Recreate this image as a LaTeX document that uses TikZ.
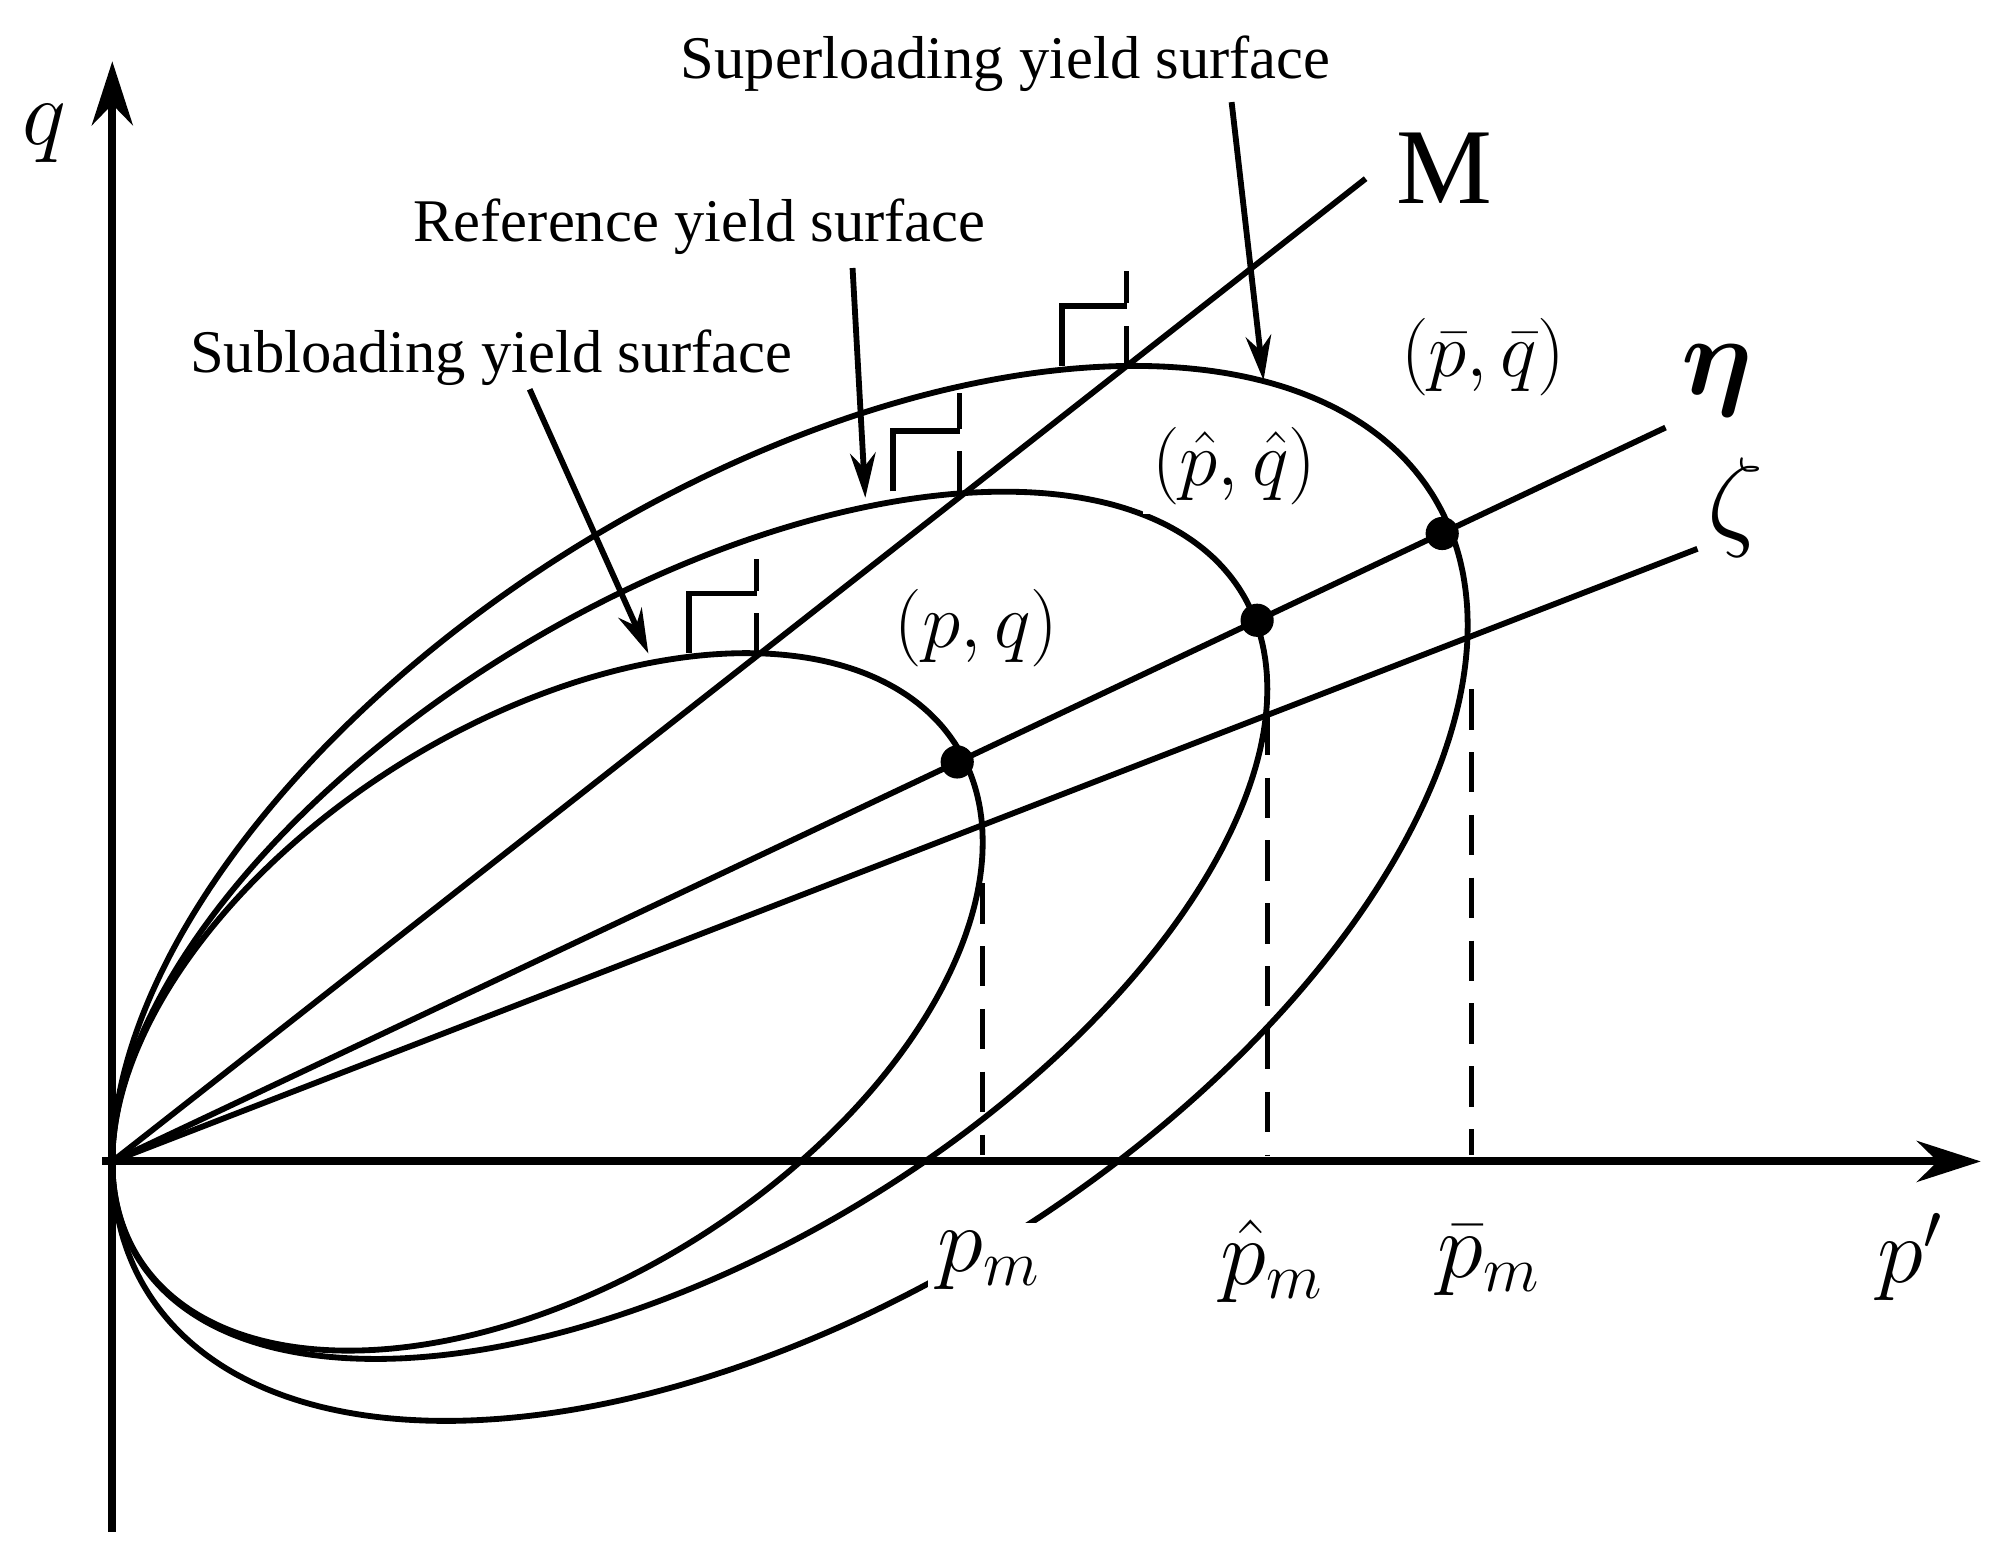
\documentclass[tikz,border=0pt]{standalone}
\usepackage{amsmath,amssymb}
\usepackage{fontspec}
\setmainfont{Liberation Serif}
\usetikzlibrary{arrows.meta, positioning}

\begin{document}
\begin{tikzpicture}[
    x=0.01cm, y=-0.01cm,
    curve/.style={line width=1.3pt},
    axis/.style={line width=1.8pt, -{Stealth[length=5mm, width=3.2mm]}},
    pointer/.style={line width=1.3pt, -{Stealth[length=3.5mm, width=2mm]}},
    guide/.style={line width=1.1pt, dashed, dash pattern=on 9pt off 5pt},
    tag/.style={font=\fontsize{13.5}{15}\selectfont},
    mlabel/.style={font=\fontsize{19}{22}\selectfont, fill=white, inner sep=2pt},
    dot/.style={circle, fill=black, inner sep=0pt, minimum size=2.6mm}
]
\useasboundingbox (0,0) rectangle (1560,1212);

% yield surfaces
\begin{scope}[shift={(88,910)}, yscale=-1]
  \draw[curve] plot[domain=0:360, samples=160, smooth] ({341+341*cos(\x)}, {125+125*cos(\x)+243*sin(\x)});
  \draw[curve] plot[domain=0:360, samples=160, smooth] ({452.5+452.5*cos(\x)}, {185+185*cos(\x)+285*sin(\x)});
  \draw[curve] plot[domain=0:360, samples=160, smooth] ({531+531*cos(\x)}, {210+210*cos(\x)+356*sin(\x)});
\end{scope}

% axes
\coordinate (O) at (88,910);
\draw[axis] (88,1200) -- (88,48);
\draw[axis] (80,910) -- (1552,910);
\node[font=\fontsize{20}{22}\selectfont\itshape] (q) at (35,105) {$q$};
\node[font=\fontsize{22}{24}\selectfont] (pp) at (1497,985) {$p'$};

% stress ratio lines
\draw[curve] (O) -- (1070,140) coordinate (Mend);
\draw[curve] (O) -- (1305,335) coordinate (etaend);
\draw[curve] (O) -- (1330,430) coordinate (zetaend);
\node[font=\fontsize{24}{26}\selectfont] (M) at (1132,132) {M};
\node[font=\fontsize{34}{36}\selectfont] (eta) at (1345,298) {$\boldsymbol{\eta}$};
\node[font=\fontsize{34}{36}\selectfont] (zeta) at (1360,398) {$\zeta$};

% stress points
\node[dot] (s1) at (750,597) {};
\node[dot] (s2) at (985,486) {};
\node[dot] (s3) at (1130,418) {};

% dashed guides to the axis
\draw[guide] (770,692) -- (770,905);
\draw[guide] (993,560) -- (993,905);
\draw[guide] (1153,540) -- (1153,905);

% apex marks
\draw[guide] (593,512) -- (593,438);
\draw[curve] (540,512) -- (540,465) -- (593,465);
\draw[guide] (752,385) -- (752,308);
\draw[curve] (700,385) -- (700,338) -- (752,338);
\draw[guide] (883,287) -- (883,212);
\draw[curve] (832,287) -- (832,240) -- (883,240);

% labels
\node[mlabel] (pq) at (765,492) {$(p,q)$};
\node[mlabel] (hpq) at (967,365) {$(\hat{p},\hat{q})$};
\node[mlabel] (bpq) at (1162,280) {$(\bar{p},\bar{q})$};
\node[mlabel, font=\fontsize{21}{24}\selectfont] (pm) at (775,988) {$p_m$};
\node[font=\fontsize{21}{24}\selectfont] (hpm) at (997,988) {$\hat{p}_m$};
\node[font=\fontsize{21}{24}\selectfont] (bpm) at (1167,988) {$\bar{p}_m$};

% surface names
\node[tag] (super) at (788,50) {Superloading yield surface};
\node[tag] (refer) at (548,178) {Reference yield surface};
\node[tag] (sub) at (385,280) {Subloading yield surface};
\coordinate (onsuper) at (990,298);
\coordinate (onrefer) at (678,390);
\coordinate (onsub) at (508,512);
\draw[pointer] (965,80) -- (onsuper);
\draw[pointer] (668,210) -- (onrefer);
\draw[pointer] (415,305) -- (onsub);

\end{tikzpicture}
\end{document}
